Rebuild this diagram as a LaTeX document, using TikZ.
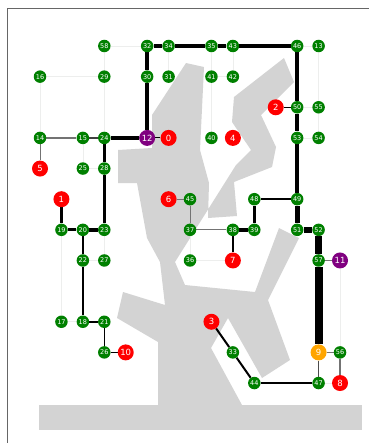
\documentclass[tikz,border=0pt]{standalone}
\usepackage{fontspec}
\setmainfont{DejaVu Sans}
\usetikzlibrary{backgrounds}
\definecolor{nodegreen}{HTML}{008000}
\definecolor{hubpurple}{HTML}{800080}
\definecolor{srcorange}{HTML}{FFA500}
\definecolor{wall}{HTML}{D3D3D3}
\begin{document}
\begin{tikzpicture}[
  x=21.43pt, y=-30.64pt,
  junction/.style={circle, fill=nodegreen, text=white, inner sep=0pt, minimum size=12.5pt, font=\fontsize{6.5}{6.5}\selectfont},
  target/.style={circle, fill=red, text=white, inner sep=0pt, minimum size=16pt, font=\fontsize{8.5}{8.5}\selectfont},
  hub/.style={target, fill=hubpurple},
  source/.style={target, fill=srcorange},
  unused/.style={draw=green!4!black!7, line width=0.6pt},
  weak/.style={draw=black!55, line width=#1},
  flow/.style={draw=black, line width=#1}
]
\useasboundingbox (-1.867,-1.501) rectangle (15.306,12.957);

% axes frame
\coordinate (corner) at (-1.54,-1.24);
\coordinate (leftend) at (-1.54,13);
\coordinate (topend) at (15.4,-1.24);
\draw[black!60, line width=0.8pt] (leftend) -- (corner) -- (topend);

% nodes
\node[junction] (n58) at (3,0) {58};
\node[junction] (n32) at (5,0) {32};
\node[junction] (n34) at (6,0) {34};
\node[junction] (n35) at (8,0) {35};
\node[junction] (n43) at (9,0) {43};
\node[junction] (n46) at (12,0) {46};
\node[junction] (n13) at (13,0) {13};
\node[junction] (n16) at (0,1) {16};
\node[junction] (n29) at (3,1) {29};
\node[junction] (n30) at (5,1) {30};
\node[junction] (n31) at (6,1) {31};
\node[junction] (n41) at (8,1) {41};
\node[junction] (n42) at (9,1) {42};
\node[target] (n2) at (11,2) {2};
\node[junction] (n50) at (12,2) {50};
\node[junction] (n55) at (13,2) {55};
\node[junction] (n14) at (0,3) {14};
\node[junction] (n15) at (2,3) {15};
\node[junction] (n24) at (3,3) {24};
\node[hub] (n12) at (5,3) {12};
\node[target] (n0) at (6,3) {0};
\node[junction] (n40) at (8,3) {40};
\node[target] (n4) at (9,3) {4};
\node[junction] (n53) at (12,3) {53};
\node[junction] (n54) at (13,3) {54};
\node[target] (n5) at (0,4) {5};
\node[junction] (n25) at (2,4) {25};
\node[junction] (n28) at (3,4) {28};
\node[target] (n1) at (1,5) {1};
\node[target] (n6) at (6,5) {6};
\node[junction] (n45) at (7,5) {45};
\node[junction] (n48) at (10,5) {48};
\node[junction] (n49) at (12,5) {49};
\node[junction] (n19) at (1,6) {19};
\node[junction] (n20) at (2,6) {20};
\node[junction] (n23) at (3,6) {23};
\node[junction] (n37) at (7,6) {37};
\node[junction] (n38) at (9,6) {38};
\node[junction] (n39) at (10,6) {39};
\node[junction] (n51) at (12,6) {51};
\node[junction] (n52) at (13,6) {52};
\node[junction] (n22) at (2,7) {22};
\node[junction] (n27) at (3,7) {27};
\node[junction] (n36) at (7,7) {36};
\node[target] (n7) at (9,7) {7};
\node[junction] (n57) at (13,7) {57};
\node[hub] (n11) at (14,7) {11};
\node[junction] (n17) at (1,9) {17};
\node[junction] (n18) at (2,9) {18};
\node[junction] (n21) at (3,9) {21};
\node[target] (n3) at (8,9) {3};
\node[junction] (n26) at (3,10) {26};
\node[target] (n10) at (4,10) {10};
\node[junction] (n33) at (9,10) {33};
\node[source] (n9) at (13,10) {9};
\node[junction] (n56) at (14,10) {56};
\node[junction] (n44) at (10,11) {44};
\node[junction] (n47) at (13,11) {47};
\node[target] (n8) at (14,11) {8};

\begin{pgfonlayer}{background}
% obstacle (pixel coordinates)
\begin{scope}[shift={(-1.867,-1.501)}, x=1pt, y=-1pt]
\fill[wall] (39,405) rectangle (362,430);
\fill[wall] (158,405) -- (158,342) -- (117,318) -- (123,292) -- (165,305)
  -- (160,262) -- (147,238) -- (137,183) -- (118,183) -- (118,150)
  -- (152,148) -- (152,115) -- (186,63) -- (204,67) -- (200,150)
  -- (209,183) -- (208,218) -- (237,216) -- (234,182) -- (272,167)
  -- (276,147) -- (261,115) -- (294,82) -- (284,58) -- (234,97)
  -- (232,122) -- (251,150) -- (236,165) -- (175,262) -- (185,285)
  -- (255,292) -- (279,228) -- (299,238) -- (268,300) -- (290,360)
  -- (262,378) -- (228,318) -- (211,348) -- (242,405) -- cycle;
\end{scope}

% grid edges without flow
\draw[unused] (n14) -- (n16) -- (n29) -- (n58) -- (n32);
\draw[unused] (n29) -- (n24);
\draw[unused] (n34) -- (n31);
\draw[unused] (n35) -- (n41) -- (n42) -- (n43);
\draw[unused] (n41) -- (n40);
\draw[unused] (n46) -- (n13) -- (n55) -- (n54) -- (n53);
\draw[unused] (n55) -- (n50);
\draw[unused] (n15) -- (n25) -- (n28);
\draw[unused] (n19) -- (n17) -- (n18);
\draw[unused] (n22) -- (n27) -- (n23);
\draw[unused] (n37) -- (n36) -- (n7);
\draw[unused] (n11) -- (n56);
\draw[unused] (n47) -- (n8);

% flow edges, width by amount
\draw[flow=4.5pt] (n32) -- (n34) -- (n35) -- (n43) -- (n46);
\draw[flow=4pt] (n32) -- (n30) -- (n12);
\draw[flow=3.5pt] (n12) -- (n24) -- (n28) -- (n23);
\draw[flow=1pt] (n12) -- (n0);
\draw[weak=1.5pt] (n14) -- (n15);
\draw[weak=2pt, draw=black!75] (n15) -- (n24);
\draw[weak=1pt] (n14) -- (n5);
\draw[flow=3pt] (n1) -- (n19) -- (n20);
\draw[flow=3.5pt] (n20) -- (n23);
\draw[flow=1.5pt] (n20) -- (n22) -- (n18) -- (n21) -- (n26) -- (n10);
\draw[flow=4.5pt] (n46) -- (n50) -- (n53) -- (n49);
\draw[flow=5pt] (n49) -- (n51);
\draw[flow=5.5pt] (n51) -- (n52);
\draw[flow=7pt] (n52) -- (n57);
\draw[flow=8pt] (n57) -- (n9);
\draw[flow=1pt] (n2) -- (n50);
\draw[flow=2pt] (n48) -- (n49);
\draw[flow=2.5pt] (n48) -- (n39);
\draw[flow=3.5pt] (n39) -- (n38);
\draw[flow=2pt] (n38) -- (n7);
\draw[weak=1pt] (n6) -- (n45) -- (n37) -- (n38);
\draw[weak=1pt] (n57) -- (n11);
\draw[weak=1.5pt] (n9) -- (n56) -- (n8);
\draw[weak=1.5pt, draw=black!70] (n9) -- (n47);
\draw[flow=2pt] (n3) -- (n33) -- (n44);
\draw[flow=1.5pt] (n44) -- (n47);
\end{pgfonlayer}
\end{tikzpicture}
\end{document}
